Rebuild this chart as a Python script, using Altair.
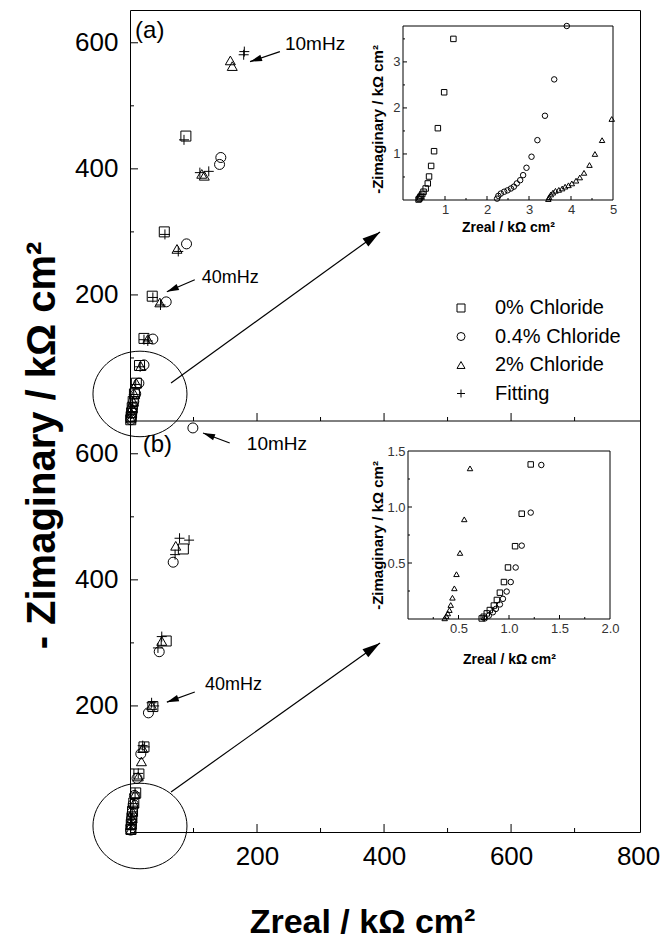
import math
import altair as alt
import pandas as pd

FONT = "Liberation Sans"
SERIES = ["0% Chloride", "0.4% Chloride", "2% Chloride", "Fitting"]

# ---------------- panel (a) main plot (kOhm cm2) ----------------
a_sq_x = [88, 54, 35, 22, 15, 10, 7, 5, 3.5, 2.5, 1.8, 1.2]
a_sq_y = [452, 300, 198, 131, 88, 60, 43, 31, 21, 13, 7, 2]
a_ci_x = [143, 141, 89, 57, 36, 22, 14, 9, 6, 4, 3, 2, 1.5]
a_ci_y = [418, 407, 281, 189, 130, 89, 60, 43, 31, 21, 13, 7, 2]
a_tr_x = [158, 161, 113, 117, 74, 47, 28, 17, 10, 7, 5, 3.5, 2.5, 1.5]
a_tr_y = [572, 563, 392, 389, 273, 188, 130, 87, 60, 43, 31, 21, 12, 4]
a_fit_x = [180, 179, 85, 110, 124, 55, 76, 36, 48, 28, 22, 16, 9, 6, 4, 3, 2]
a_fit_y = [586, 581, 446, 394, 396, 296, 269, 196, 184, 127, 129, 86, 58, 42, 30, 20, 11]

# ---------------- panel (b) main plot ----------------
b_sq_x = [84, 57, 36, 22, 14, 9, 6, 4, 3, 2, 1.5]
b_sq_y = [449, 303, 199, 135, 92, 62, 46, 33, 22, 12, 4]
b_ci_x = [99, 68, 46, 29, 17, 11, 7, 5, 3.5, 2.5, 2, 1]
b_ci_y = [641, 428, 286, 189, 124, 85, 58, 44, 31, 21, 11, 3]
b_tr_x = [72, 50, 34, 20, 18, 13, 8, 6, 4, 3, 2, 1.5]
b_tr_y = [454, 303, 201, 133, 112, 88, 60, 45, 32, 22, 12, 4]
b_fit_x = [78, 93, 71, 50, 44, 34, 38, 20, 23, 13, 8, 5, 3.5, 2.5, 2, 1]
b_fit_y = [466, 463, 440, 310, 292, 205, 200, 137, 135, 93, 62, 45, 32, 22, 11, 4]

# ---------------- inset (a) ----------------
ia_sq_x = [1.2, 0.98, 0.83, 0.74, 0.67, 0.62, 0.59, 0.54, 0.49, 0.46, 0.43, 0.41, 0.39, 0.37]
ia_sq_y = [3.5, 2.34, 1.56, 1.06, 0.74, 0.51, 0.36, 0.25, 0.18, 0.13, 0.09, 0.06, 0.03, 0.01]
ia_ci_x = [3.9, 3.6, 3.38, 3.2, 3.06, 2.94, 2.86, 2.79, 2.71, 2.64, 2.57, 2.49, 2.41, 2.33, 2.27, 2.24]
ia_ci_y = [3.78, 2.62, 1.83, 1.30, 0.94, 0.70, 0.54, 0.43, 0.36, 0.29, 0.25, 0.21, 0.18, 0.14, 0.09, 0.03]
ia_tr_x = [4.97, 4.74, 4.57, 4.44, 4.31, 4.21, 4.12, 4.02, 3.94, 3.86, 3.79, 3.71, 3.63, 3.57, 3.52, 3.48, 3.46]
ia_tr_y = [1.76, 1.30, 1.0, 0.76, 0.59, 0.49, 0.42, 0.36, 0.32, 0.29, 0.25, 0.22, 0.20, 0.16, 0.12, 0.06, 0.02]

# ---------------- inset (b) ----------------
ib_sq_x = [1.215, 1.126, 1.06, 0.99, 0.95, 0.91, 0.88, 0.85, 0.81, 0.78, 0.75, 0.73]
ib_sq_y = [1.38, 0.94, 0.65, 0.46, 0.33, 0.235, 0.17, 0.12, 0.08, 0.05, 0.02, 0.005]
ib_ci_x = [1.32, 1.215, 1.126, 1.066, 1.017, 0.977, 0.94, 0.91, 0.87, 0.84, 0.80, 0.76]
ib_ci_y = [1.375, 0.95, 0.655, 0.46, 0.33, 0.245, 0.18, 0.13, 0.09, 0.06, 0.03, 0.005]
ib_tr_x = [0.614, 0.557, 0.515, 0.48, 0.459, 0.44, 0.423, 0.41, 0.394, 0.379, 0.363]
ib_tr_y = [1.345, 0.89, 0.59, 0.40, 0.274, 0.19, 0.125, 0.08, 0.05, 0.027, 0.006]

# ---------------- tick values ----------------
main_x_labels = [200, 400, 600, 800]
main_x_major = [200, 400, 600]
main_x_minor = [100, 300, 500, 700]
main_y_labels = [200, 400, 600]
main_y_major = [200, 400, 600]
main_y_minor = [100, 300, 500]
ia_x_labels = [1, 2, 3, 4, 5]
ia_x_major = [1, 2, 3, 4]
ia_x_minor = [0.5, 1.5, 2.5, 3.5, 4.5]
ia_y_labels = [1, 2, 3]
ia_y_major = [1, 2, 3]
ia_y_minor = [0.5, 1.5, 2.5, 3.5]
ib_x_labels = [0.5, 1.0, 1.5, 2.0]
ib_x_major = [0.5, 1.0, 1.5]
ib_x_minor = [0.25, 0.75, 1.25, 1.75]
ib_y_labels = [0.5, 1.0, 1.5]
ib_y_major = [0.5, 1.0]
ib_y_minor = [0.25, 0.75, 1.25]

# ---------------- annotations (data coordinates of main plots) ----------------
a_text = ["(a)", "10mHz", "40mHz"]
a_text_x = [8, 244, 113]
a_text_y = [608, 589, 219]
a_text_fs = [24, 19, 18]
b_text = ["(b)", "10mHz", "40mHz"]
b_text_x = [20, 184, 118]
b_text_y = [603, 606, 225]
b_text_fs = [24, 19, 18]

a_arr_x = [64.6, 236, 102]
a_arr_y = [60.3, 586, 224]
a_arr_x2 = [393.7, 189, 58]
a_arr_y2 = [300, 570, 205]
b_arr_x = [64.6, 157, 102]
b_arr_y = [63.5, 617, 222]
b_arr_x2 = [393.7, 115, 58]
b_arr_y2 = [300, 633, 206]
arr_head = [324, 144, 144]

a_ell_x, a_ell_y = [15.7], [42.9]
b_ell_x, b_ell_y = [15.7], [9.5]

# ---------------- layout ----------------
W, H, HP = 510, 822, 411
XM = ([0, 803], [0, W])
YA = ([0, 652], [HP, 0])
YB = ([0, 652], [H, HP])
XIA = ([0, 5], [273, 483])
YIA = ([0, 3.78], [190, 16])
XIB = ([0, 2], [278, 480])
YIB = ([0, 1.5], [609, 441])

PLUS = "M-1,0L1,0M0,-1L0,1"
ARROW = "M0,0L-0.55,2L0.55,2Z"
ELLIPSE = ("M1,0C1,0.5026,0.5523,0.91,0,0.91C-0.5523,0.91,-1,0.5026,-1,0"
           "C-1,-0.5026,-0.5523,-0.91,0,-0.91C0.5523,-0.91,1,-0.5026,1,0Z")
SHAPES = alt.Scale(domain=SERIES, range=["square", "circle", "triangle-up", PLUS])


def sc(s):
    return alt.Scale(domain=s[0], range=s[1], nice=False, zero=False)


def ppu(s):
    (d0, d1), (r0, r1) = s
    return abs(r1 - r0) / (d1 - d0)


def series_df(parts):
    rows = []
    for name, xs, ys in parts:
        rows += [{"x": a, "y": b, "s": name} for a, b in zip(xs, ys)]
    return pd.DataFrame(rows)


def points(df, xs, ys, size, legend=None, xaxis=None, yaxis=None):
    return alt.Chart(df).mark_point(filled=False, color="black", strokeWidth=1,
                                    size=size, opacity=1).encode(
        x=alt.X("x:Q", scale=sc(xs), axis=xaxis),
        y=alt.Y("y:Q", scale=sc(ys), axis=yaxis),
        shape=alt.Shape("s:N", scale=SHAPES, legend=legend),
    )


def ticks(xs, ys, xmaj, xmin, ymaj, ymin, lmaj, lmin):
    ky = 1.0 / ppu(ys)
    kx = 1.0 / ppu(xs)
    x0, y0 = xs[0][0], ys[0][0]
    rows = []
    for vals, L in ((xmaj, lmaj), (xmin, lmin)):
        rows += [{"x": v, "x2": v, "y": y0, "y2": y0 + L * ky} for v in vals]
    for vals, L in ((ymaj, lmaj), (ymin, lmin)):
        rows += [{"x": x0, "x2": x0 + L * kx, "y": v, "y2": v} for v in vals]
    return alt.Chart(pd.DataFrame(rows)).mark_rule(color="black", strokeWidth=1).encode(
        x=alt.X("x:Q", scale=sc(xs), axis=None), x2="x2:Q",
        y=alt.Y("y:Q", scale=sc(ys), axis=None), y2="y2:Q")


def frame(xs, ys):
    df = pd.DataFrame({"x": [xs[0][0]], "x2": [xs[0][1]], "y": [ys[0][0]], "y2": [ys[0][1]]})
    return alt.Chart(df).mark_rect(fillOpacity=0, stroke="black", strokeWidth=1).encode(
        x=alt.X("x:Q", scale=sc(xs), axis=None), x2="x2:Q",
        y=alt.Y("y:Q", scale=sc(ys), axis=None), y2="y2:Q")


def texts(labels, xv, yv, fs, xs, ys):
    df = pd.DataFrame({"t": labels, "x": xv, "y": yv, "fs": fs})
    return alt.Chart(df).mark_text(font=FONT, align="left", baseline="alphabetic",
                                   color="black").encode(
        x=alt.X("x:Q", scale=sc(xs), axis=None),
        y=alt.Y("y:Q", scale=sc(ys), axis=None),
        text="t:N", size=alt.Size("fs:Q", scale=None))


def arrows(x, y, x2, y2, head, xs, ys):
    sx, sy = ppu(xs), ppu(ys)
    ang = [math.degrees(math.atan2((b - a) * sx, (d - c) * sy)) % 360
           for a, b, c, d in zip(x, x2, y, y2)]
    df = pd.DataFrame({"x": x, "y": y, "x2": x2, "y2": y2, "ang": ang, "hs": head})
    line = alt.Chart(df).mark_rule(color="black", strokeWidth=1.2).encode(
        x=alt.X("x:Q", scale=sc(xs), axis=None), x2="x2:Q",
        y=alt.Y("y:Q", scale=sc(ys), axis=None), y2="y2:Q")
    head_l = alt.Chart(df).mark_point(shape=ARROW, filled=True, color="black",
                                      opacity=1, strokeWidth=0).encode(
        x=alt.X("x2:Q", scale=sc(xs), axis=None),
        y=alt.Y("y2:Q", scale=sc(ys), axis=None),
        angle=alt.Angle("ang:Q", scale=None),
        size=alt.Size("hs:Q", scale=None))
    return [line, head_l]


def ellipse(xv, yv, xs, ys):
    df = pd.DataFrame({"x": xv, "y": yv})
    return alt.Chart(df).mark_point(shape=ELLIPSE, filled=False, color="black",
                                    strokeWidth=1, size=94 * 94, opacity=1).encode(
        x=alt.X("x:Q", scale=sc(xs), axis=None),
        y=alt.Y("y:Q", scale=sc(ys), axis=None))


def main_y_axis(title=None):
    kw = dict(orient="left", values=main_y_labels, ticks=False, tickSize=0, domain=False,
              grid=False, labelFontSize=26, labelPadding=12, labelColor="black",
              labelFlush=False, labelOverlap=False, labelFont=FONT)
    if title:
        kw.update(title=title, titleFont=FONT, titleFontSize=40, titleFontWeight="bold",
                  titleColor="black", titleAngle=270, titleX=-88, titleY=435,
                  titleAlign="center", titleBaseline="middle")
    else:
        kw.update(title=None)
    return alt.Axis(**kw)


def inset_axes(xs, ys, xl, yl, fmt, xtitle_y, ytitle_x, ytitle_y):
    common = dict(ticks=False, tickSize=0, domain=False, grid=False, labelFontSize=13,
                  labelPadding=3, labelColor="#333", labelFlush=False, labelOverlap=False,
                  labelFont=FONT, format=fmt, titleFont=FONT, titleFontWeight="bold",
                  titleColor="black")
    xa = alt.Axis(orient="bottom", offset=-(H - ys[1][0]), values=xl,
                  title="Zreal / kΩ cm²", titleFontSize=14, titleX=(xs[1][0] + xs[1][1]) / 2,
                  titleY=xtitle_y, titleAlign="center", titleBaseline="alphabetic",
                  titleAngle=0, **common)
    ya = alt.Axis(orient="left", offset=-xs[1][0], values=yl,
                  title="-Zimaginary / kΩ cm²", titleFontSize=15, titleX=ytitle_x,
                  titleY=ytitle_y, titleAngle=270, titleAlign="center",
                  titleBaseline="middle", **common)
    return xa, ya


legend = alt.Legend(orient="none", legendX=321, legendY=288, title=None, labelFont=FONT,
                    labelFontSize=20, labelColor="black", labelOffset=24, rowPadding=8.5,
                    padding=0, symbolSize=64, symbolStrokeWidth=1,
                    symbolStrokeColor="black", symbolFillColor="transparent")

# ---------- panel (a) main ----------
a_df = series_df([(SERIES[0], a_sq_x, a_sq_y), (SERIES[1], a_ci_x, a_ci_y),
                  (SERIES[2], a_tr_x, a_tr_y), (SERIES[3], a_fit_x, a_fit_y)])
mid = alt.Chart(pd.DataFrame({"x": [0], "x2": [803], "y": [0]})).mark_rule(
    color="black", strokeWidth=1).encode(
    x=alt.X("x:Q", scale=sc(XM), axis=None), x2="x2:Q",
    y=alt.Y("y:Q", scale=sc(YA), axis=None))
top_main = [
    mid,
    ticks(XM, YA, main_x_major, main_x_minor, main_y_major, main_y_minor, 8, 4),
    ellipse(a_ell_x, a_ell_y, XM, YA),
    *arrows(a_arr_x, a_arr_y, a_arr_x2, a_arr_y2, arr_head, XM, YA),
    points(a_df, XM, YA, 100, legend=legend, xaxis=None,
           yaxis=main_y_axis("- Zimaginary / kΩ cm²")),
    texts(a_text, a_text_x, a_text_y, a_text_fs, XM, YA),
]

# ---------- panel (b) main ----------
b_df = series_df([(SERIES[0], b_sq_x, b_sq_y), (SERIES[1], b_ci_x, b_ci_y),
                  (SERIES[2], b_tr_x, b_tr_y), (SERIES[3], b_fit_x, b_fit_y)])
bx_axis = alt.Axis(orient="bottom", values=main_x_labels, ticks=False, tickSize=0,
                   domain=False, grid=False, labelFontSize=26, labelPadding=11,
                   labelColor="black", labelFlush=False, labelOverlap=False, labelFont=FONT,
                   title="Zreal / kΩ cm²", titleFont=FONT, titleFontSize=34,
                   titleFontWeight="bold", titleColor="black", titleX=232, titleY=100,
                   titleAlign="center", titleBaseline="alphabetic", titleAngle=0)
bot_main = [
    ticks(XM, YB, main_x_major, main_x_minor, main_y_major, main_y_minor, 8, 4),
    ellipse(b_ell_x, b_ell_y, XM, YB),
    *arrows(b_arr_x, b_arr_y, b_arr_x2, b_arr_y2, arr_head, XM, YB),
    points(b_df, XM, YB, 100, legend=None, xaxis=bx_axis, yaxis=main_y_axis()),
    texts(b_text, b_text_x, b_text_y, b_text_fs, XM, YB),
]

# ---------- inset (a) ----------
ia_df = series_df([(SERIES[0], ia_sq_x, ia_sq_y), (SERIES[1], ia_ci_x, ia_ci_y),
                   (SERIES[2], ia_tr_x, ia_tr_y)])
iax, iay = inset_axes(XIA, YIA, ia_x_labels, ia_y_labels, "d", 31, -26, 109)
inset_a = [
    frame(XIA, YIA),
    ticks(XIA, YIA, ia_x_major, ia_x_minor, ia_y_major, ia_y_minor, 4, 2),
    points(ia_df, XIA, YIA, 30, legend=None, xaxis=iax, yaxis=iay),
]

# ---------- inset (b) ----------
ib_df = series_df([(SERIES[0], ib_sq_x, ib_sq_y), (SERIES[1], ib_ci_x, ib_ci_y),
                   (SERIES[2], ib_tr_x, ib_tr_y)])
ibx, iby = inset_axes(XIB, YIB, ib_x_labels, ib_y_labels, ".1f", 44, -31, 525)
inset_b = [
    frame(XIB, YIB),
    ticks(XIB, YIB, ib_x_major, ib_x_minor, ib_y_major, ib_y_minor, 4, 2),
    points(ib_df, XIB, YIB, 30, legend=None, xaxis=ibx, yaxis=iby),
]

chart = alt.layer(*(top_main + bot_main + inset_a + inset_b)).resolve_scale(
    x="independent", y="independent", shape="shared"
).properties(
    width=W, height=H,
    autosize=alt.AutoSizeParams(type="none"),
    padding={"left": 130, "top": 10, "right": 26, "bottom": 111},
    background="white",
).configure_view(stroke="black", strokeWidth=1)

chart.save("out.html", embed_options={"renderer": "svg", "actions": False})
